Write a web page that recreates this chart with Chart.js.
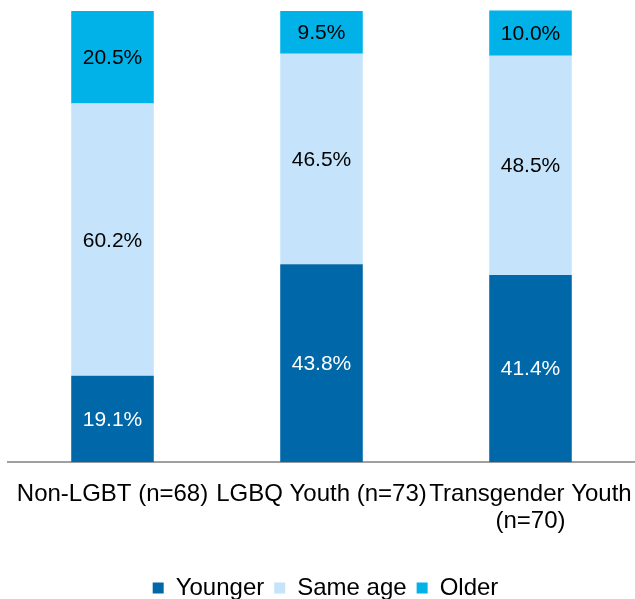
<!DOCTYPE html>
<html>
<head>
<meta charset="utf-8">
<script src="https://cdn.jsdelivr.net/npm/chart.js@4"></script>
<style>
  html, body { margin: 0; padding: 0; background: #fff; }
  canvas { display: block; }
</style>
</head>
<body>
<canvas id="chartJS" width="635" height="599"></canvas>
<script>
// categories and values (percent)
const groups = [['Non-LGBT (n=68)'], ['LGBQ Youth (n=73)'], ['Transgender Youth', '(n=70)']];
const younger = [19.1, 43.8, 41.4];
const sameAge = [60.2, 46.5, 48.5];
const older = [20.5, 9.5, 10.0];

const FONT = "'Liberation Sans', Arial, Helvetica, sans-serif";

// draws the value in the middle of each bar piece
const barLabels = {
  id: 'barLabels',
  afterDatasetsDraw(chart) {
    const ctx = chart.ctx;
    ctx.save();
    ctx.font = '21px ' + FONT;
    ctx.textAlign = 'center';
    ctx.textBaseline = 'middle';
    chart.data.datasets.forEach((ds, i) => {
      chart.getDatasetMeta(i).data.forEach((bar, j) => {
        const mid = (bar.y + bar.base) / 2;
        ctx.fillStyle = ds.labelColor;
        ctx.fillText(ds.data[j].toFixed(1) + '%', bar.x, mid + 1);
      });
    });
    ctx.restore();
  }
};

const cfg = {
  type: 'bar',
  data: {
    labels: groups,
    datasets: [
      { label: 'Younger', data: younger, backgroundColor: '#0068a8', labelColor: '#ffffff' },
      { label: 'Same age', data: sameAge, backgroundColor: '#c5e4fb', labelColor: '#000000' },
      { label: 'Older', data: older, backgroundColor: '#00b2e8', labelColor: '#000000' }
    ]
  },
  options: {
    responsive: false,
    animation: false,
    barPercentage: 0.395,
    categoryPercentage: 1,
    layout: { padding: { left: 8, right: -8, top: 10, bottom: -11 } },
    scales: {
      x: {
        stacked: true,
        grid: { display: false },
        border: { color: '#a0a0a0', width: 2 },
        ticks: { color: '#000', font: { family: FONT, size: 24, lineHeight: 1.12 }, maxRotation: 0, autoSkip: false, padding: 11 },
        afterFit(scale) {
          // long labels may spill past the bars, like the original
          scale.paddingLeft = 0;
          scale.paddingRight = 0;
          scale.height += 20;
        }
      },
      y: {
        stacked: true,
        display: false,
        min: 0,
        max: 100
      }
    },
    plugins: {
      tooltip: { enabled: false },
      legend: {
        position: 'bottom',
        labels: {
          color: '#000',
          font: { family: FONT, size: 24 },
          boxWidth: 11,
          boxHeight: 11,
          padding: 10
        }
      }
    }
  },
  plugins: [barLabels]
};

new Chart(document.getElementById('chartJS'), cfg);
</script>
</body>
</html>
